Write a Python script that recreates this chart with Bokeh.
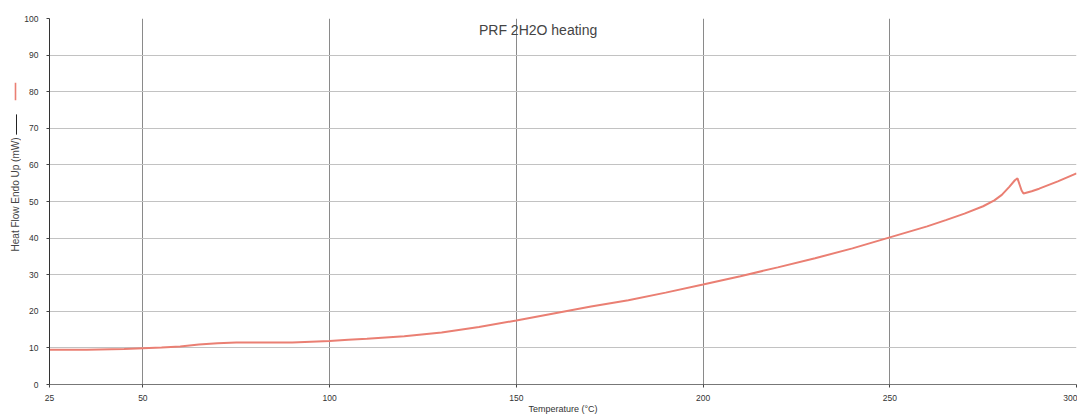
import math
from bokeh.plotting import figure
from bokeh.layouts import row
from bokeh.models import FixedTicker, Label, Range1d
from bokeh.core.properties import value
from bokeh.embed import file_html
from bokeh.resources import INLINE

# ---- data ----
temperature = [25, 35, 45, 50, 55, 60, 65, 70, 75, 80, 90, 100, 105, 110, 120, 130,
               140, 150, 160, 170, 180, 190, 200, 210, 220, 230, 240, 250, 260, 265,
               270, 275, 278, 280, 282, 283.5, 284.2, 284.8, 285.3, 285.8, 288, 290,
               295, 300]
heat_flow = [9.5, 9.5, 9.7, 9.9, 10.1, 10.4, 10.9, 11.3, 11.45, 11.5, 11.5, 11.9, 12.2,
             12.5, 13.2, 14.2, 15.7, 17.5, 19.4, 21.3, 23.0, 25.1, 27.3, 29.6, 32.0,
             34.5, 37.2, 40.2, 43.2, 44.9, 46.7, 48.7, 50.3, 51.8, 54.0, 55.8, 56.3,
             54.5, 53.0, 52.2, 52.8, 53.5, 55.5, 57.7]
x_ticks = [25, 50, 100, 150, 200, 250, 300]
y_ticks = [0, 10, 20, 30, 40, 50, 60, 70, 80, 90, 100]
title_text = "PRF 2H2O heating"
x_label = "Temperature (°C)"
y_label = "Heat Flow Endo Up (mW)"

FONT = "Liberation Sans"
RED = "#ea7f73"
H = 416
LW = 21  # width of the side strip holding the y label and legend marks

# ---- side strip: y-axis label with the two legend line samples ----
side = figure(width=LW, height=H, output_backend="svg", toolbar_location=None,
              x_range=Range1d(0, LW), y_range=Range1d(0, H),
              min_border=0, min_border_left=0, min_border_right=0,
              min_border_top=0, min_border_bottom=0)
side.axis.visible = False
side.grid.visible = False
side.outline_line_color = None
side.border_fill_color = "white"
side.text(x=[15], y=[H - 200], text=[y_label], angle=math.pi / 2,
          text_align="center", text_baseline="middle",
          text_font=value(FONT), text_font_size="10px", text_color="#444444")
side.segment(x0=[15], y0=[H - 73], x1=[15], y1=[H - 93], line_color=RED, line_width=1.6)
side.segment(x0=[16], y0=[H - 109], x1=[16], y1=[H - 132], line_color="#222222", line_width=1)

# ---- main plot ----
p = figure(width=1077 - LW, height=H, output_backend="svg", toolbar_location=None,
           x_range=Range1d(25, 300), y_range=Range1d(0, 100),
           min_border_left=47 - LW, min_border_right=1, min_border_top=18,
           min_border_bottom=30)
p.outline_line_color = None
p.background_fill_color = "white"
p.border_fill_color = "white"

p.line(temperature, heat_flow, line_color=RED, line_width=2)

p.xaxis.ticker = FixedTicker(ticks=x_ticks)
p.yaxis.ticker = FixedTicker(ticks=y_ticks)
for ax in (p.xaxis[0], p.yaxis[0]):
    ax.major_label_text_font = FONT
    ax.major_label_text_font_size = "8.5px"
    ax.major_label_text_color = "#333333"
    ax.axis_label_text_font = FONT
    ax.axis_label_text_font_style = "normal"
    ax.axis_label_text_color = "#333333"
    ax.minor_tick_line_color = None
    ax.major_tick_in = 0
    ax.major_tick_out = 3
    ax.major_tick_line_color = "#444444"

p.yaxis.axis_line_color = "#333333"
p.yaxis.major_label_standoff = 8

p.xaxis.axis_line_color = "#777777"
p.xaxis.major_label_standoff = 7
p.xaxis.axis_label = x_label
p.xaxis.axis_label_text_font_size = "9px"
p.xaxis.axis_label_standoff = 0

p.xgrid.grid_line_color = "#8a8a8a"
p.xgrid.grid_line_width = 1
p.ygrid.grid_line_color = "#c2c2c2"
p.ygrid.grid_line_width = 1

p.add_layout(Label(x=140, y=99, text=title_text, text_font=FONT, text_font_size="14px",
                   text_color="#444444", text_baseline="top", text_align="left"))

layout = row(side, p, spacing=0)
open("out.html", "w").write(file_html(layout, INLINE))
